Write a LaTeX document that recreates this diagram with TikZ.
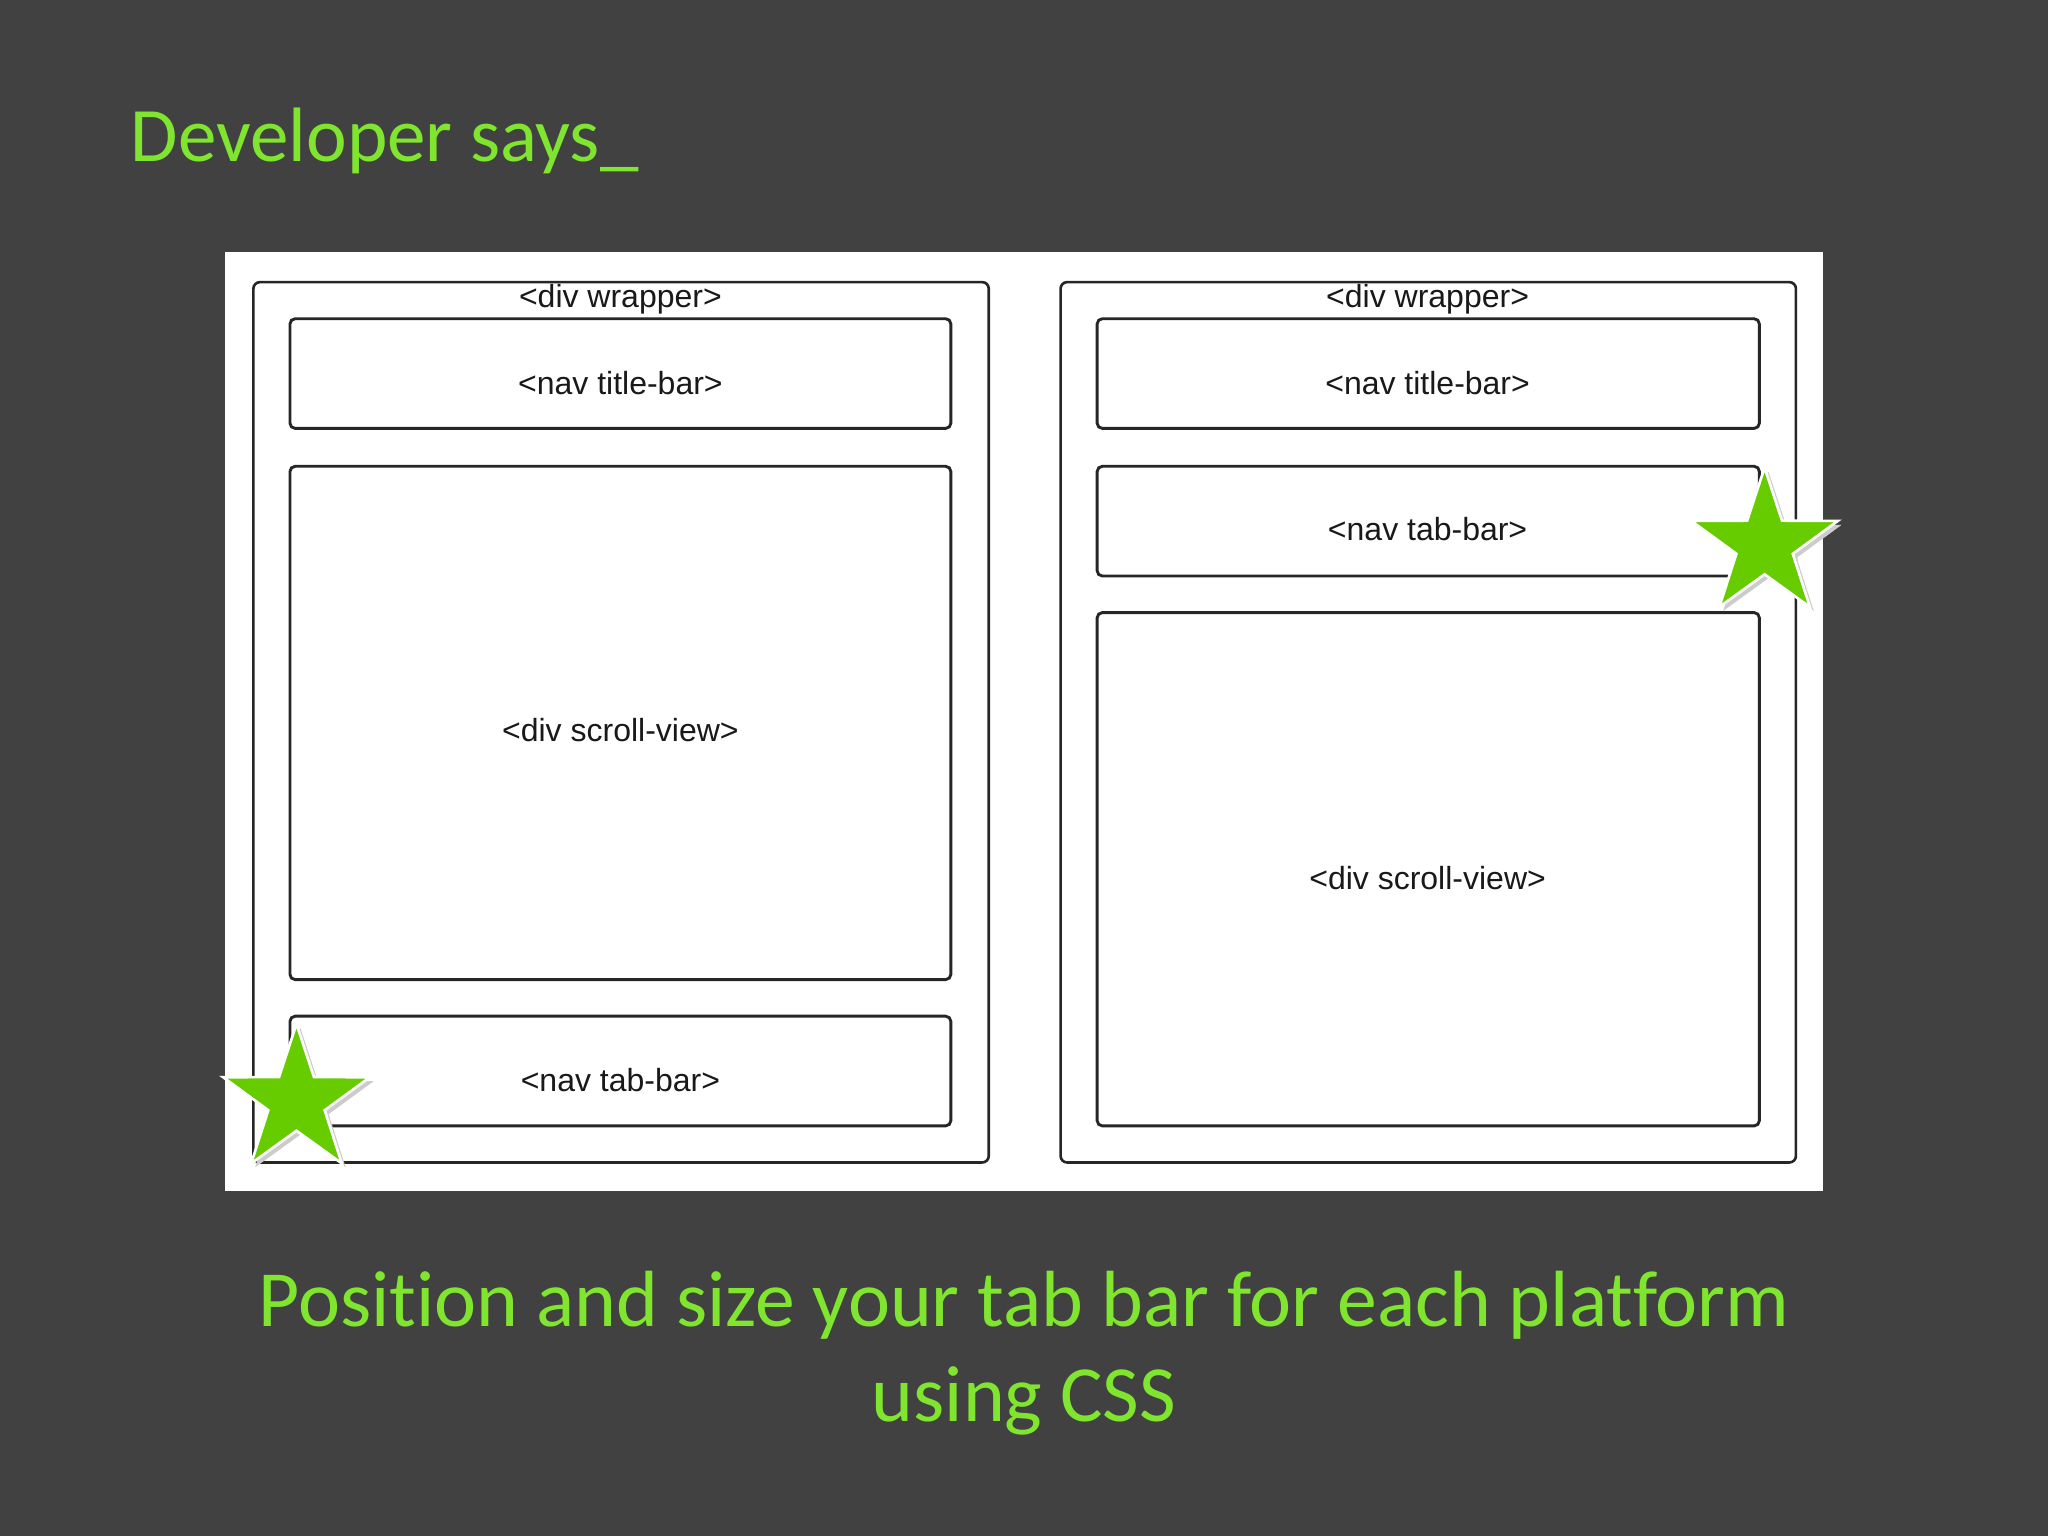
\documentclass[tikz,border=0pt]{standalone}
\usepackage{fontspec}
\setmainfont[Ligatures=NoCommon]{Carlito}
\newfontfamily\arialf{Liberation Sans}
\usetikzlibrary{shapes.geometric}
\definecolor{bg}{HTML}{414141}
\definecolor{lime}{HTML}{7FE52E}
\definecolor{stargreen}{HTML}{66CC00}
\begin{document}
\begin{tikzpicture}[x=1pt,y=-1pt,
  box/.style={draw=black!85,line width=2.2pt,rounded corners=4pt,fill=white},
  lbl/.style={font=\arialf\fontsize{24.5}{28}\selectfont,text=black!90},
  starshape/.style={star,star points=5,star point ratio=2.6,minimum size=118pt,fill=stargreen,draw=white,line width=2pt,inner sep=0pt}]
\fill[bg] (0,0) rectangle (1568,1176);
\useasboundingbox (0,0) rectangle (1568,1176);
\node[anchor=base west,text=lime,font=\fontsize{59}{64}\selectfont,inner sep=0] (title) at (100,124) {Developer says\_};
\fill[white] (172,193) rectangle (1396,912);
% left
\draw[box,line width=2pt,rounded corners=5pt] (194,216) rectangle (757,890);
\node[lbl] (lw) at (475,229) {<div wrapper>};
\draw[box] (222,244) rectangle (728,328);
\node[lbl] (lt) at (475,293) {<nav title-bar>};
\draw[box] (222,357) rectangle (728,750);
\node[lbl] (ls) at (475,559) {<div scroll-view>};
\draw[box] (222,778) rectangle (728,862);
\node[lbl] (lb) at (475,827) {<nav tab-bar>};
% right
\draw[box,line width=2pt,rounded corners=5pt] (812,216) rectangle (1375,890);
\node[lbl] (rw) at (1093,229) {<div wrapper>};
\draw[box] (840,244) rectangle (1347,328);
\node[lbl] (rt) at (1093,293) {<nav title-bar>};
\draw[box] (840,357) rectangle (1347,441);
\node[lbl] (rb) at (1093,405) {<nav tab-bar>};
\draw[box] (840,469) rectangle (1347,862);
\node[lbl] (rs) at (1093,672) {<div scroll-view>};
% stars
\node[starshape,fill=black!20,draw=none] at (230,846) {};
\node[starshape] (s1) at (227,843) {};
\node[starshape,fill=black!20,draw=none] at (1354,420) {};
\node[starshape] (s2) at (1351,417) {};
% bottom text
\node[text=lime,font=\fontsize{61}{72}\selectfont,align=center] (cap) at (784,1036) {Position and size your tab bar for each platform\\using CSS};
\end{tikzpicture}
\end{document}
